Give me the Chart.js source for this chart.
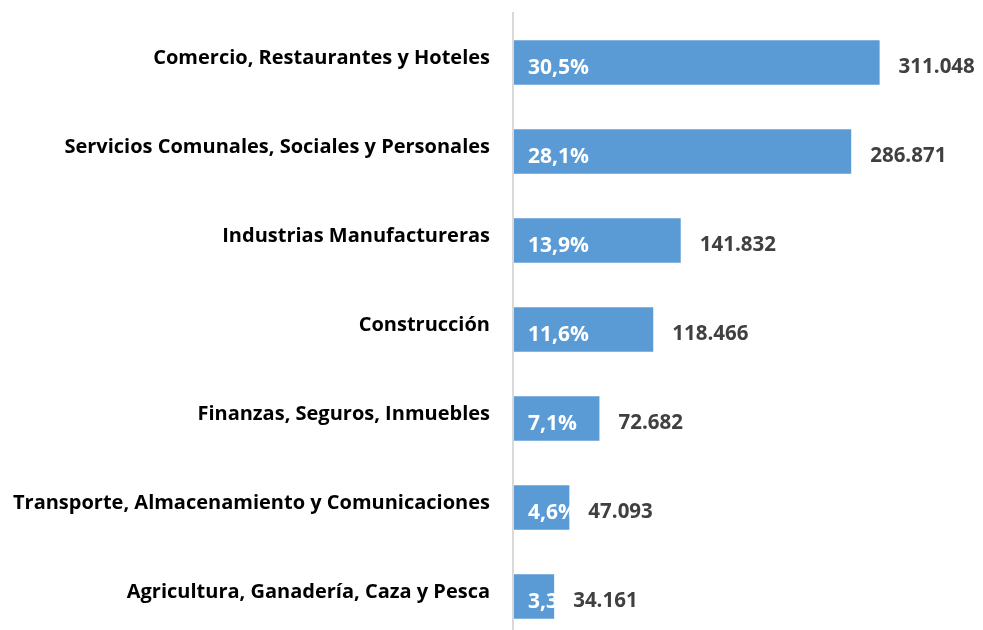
<!DOCTYPE html>
<html>
<head>
<meta charset="utf-8">
<script src="https://cdn.jsdelivr.net/npm/chart.js@4/dist/chart.umd.min.js"></script>
<style>
    html, body { margin: 0; padding: 0; background: #fff; overflow: hidden; }
    canvas { display: block; }
</style>
</head>
<body>
<canvas id="sectorChart" width="983" height="641"></canvas>
<script>
const categories = [
    'Comercio, Restaurantes y Hoteles',
    'Servicios Comunales, Sociales y Personales',
    'Industrias Manufactureras',
    'Construcción',
    'Finanzas, Seguros, Inmuebles',
    'Transporte, Almacenamiento y Comunicaciones',
    'Agricultura, Ganadería, Caza y Pesca'
];
const workers = [311048, 286871, 141832, 118466, 72682, 47093, 34161];
const valueLabels = ['311.048', '286.871', '141.832', '118.466', '72.682', '47.093', '34.161'];
const shareLabels = ['30,5%', '28,1%', '13,9%', '11,6%', '7,1%', '4,6%', '3,3%'];

const FONT = '"Open Sans", "Noto Sans", sans-serif';

// dibuja ejes, categorías y etiquetas a mano (estilo Excel)
const labelPlugin = {
    id: 'labelPlugin',
    afterDatasetsDraw(chart) {
        const ctx = chart.ctx;
        const area = chart.chartArea;
        const meta = chart.getDatasetMeta(0);
        const yScale = chart.scales.y;

        ctx.save();
        // línea del eje vertical
        ctx.strokeStyle = '#d9d9d9';
        ctx.lineWidth = 2;
        ctx.beginPath();
        ctx.moveTo(area.left - 1, 12);
        ctx.lineTo(area.left - 1, chart.height);
        ctx.stroke();

        meta.data.forEach((bar, i) => {
            const yc = yScale.getPixelForValue(i);

            // categoría
            ctx.font = 'bold 20px ' + FONT;
            ctx.fillStyle = '#000000';
            ctx.textAlign = 'right';
            ctx.textBaseline = 'alphabetic';
            ctx.fillText(categories[i], area.left - 24, yc + 1.5);

            // porcentaje dentro de la barra
            ctx.font = 'bold 21px ' + FONT;
            ctx.fillStyle = '#ffffff';
            ctx.textAlign = 'left';
            ctx.fillText(shareLabels[i], area.left + 14, yc + 11.5);

            // valor a la derecha, con fondo blanco
            ctx.font = 'bold 20.5px ' + FONT;
            const x = bar.x + 19;
            const w = ctx.measureText(valueLabels[i]).width;
            ctx.fillStyle = '#ffffff';
            ctx.fillRect(x - 4, yc - 8, w + 8, 22);
            ctx.fillStyle = '#404040';
            ctx.fillText(valueLabels[i], x, yc + 10);
        });
        ctx.restore();
    }
};

const ctx = document.getElementById('sectorChart').getContext('2d');
new Chart(ctx, {
    type: 'bar',
    data: {
        labels: categories,
        datasets: [{
            data: workers,
            backgroundColor: '#5b9bd5',
            borderWidth: 0,
            categoryPercentage: 1,
            barPercentage: 0.5
        }]
    },
    options: {
        indexAxis: 'y',
        responsive: false,
        animation: false,
        layout: {
            padding: { left: 514, right: 0, top: 18, bottom: 0 }
        },
        plugins: {
            legend: { display: false },
            tooltip: { enabled: false }
        },
        scales: {
            x: {
                display: false,
                min: 0,
                max: 399000
            },
            y: {
                display: false
            }
        }
    },
    plugins: [labelPlugin]
});
</script>
</body>
</html>
